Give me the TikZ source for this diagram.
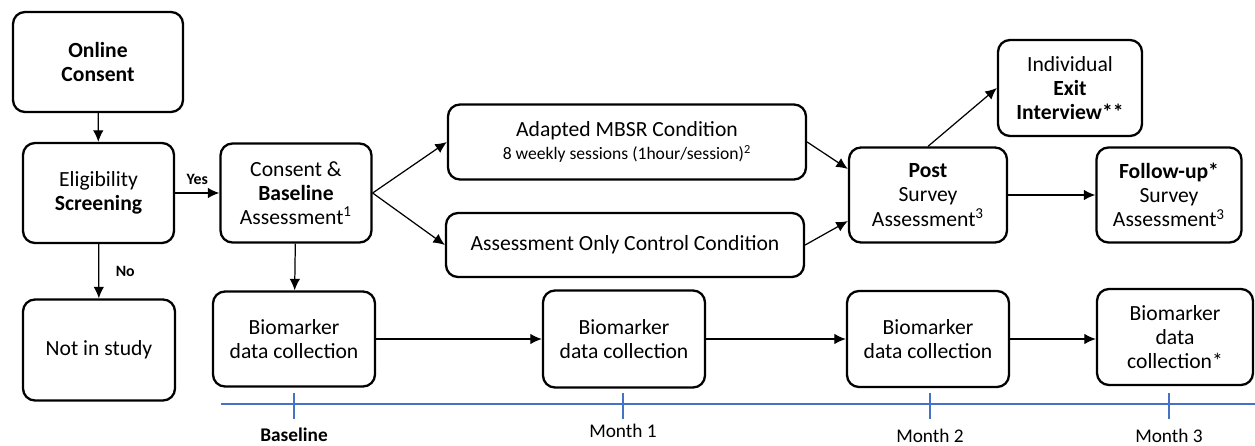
\documentclass[tikz,border=0pt]{standalone}
\usepackage{fontspec}
\setmainfont{Carlito}
\usetikzlibrary{arrows.meta}
\definecolor{timeblue}{RGB}{68,114,196}

\tikzset{
    box/.style={draw, rounded corners=0.24cm, line width=1.3pt, align=center, inner sep=2pt,
        font=\fontsize{12.3}{13.8}\selectfont},
    flow/.style={-{Latex[length=2.3mm,width=2.1mm]}, line width=0.7pt},
    tick/.style={timeblue, line width=1pt}
}

\begin{document}
\begin{tikzpicture}

    \useasboundingbox (0,0) rectangle (25.1,-8.92);

    % Screening column
    \node[box, minimum width=3.40cm, minimum height=2.00cm] (online) at (1.96,-1.24) {\textbf{Online}\\\textbf{Consent}};
    \node[box, minimum width=3.02cm, minimum height=2.00cm] (elig) at (1.97,-3.86) {Eligibility\\\textbf{Screening}};
    \node[box, minimum width=3.04cm, minimum height=2.02cm] (notin) at (1.98,-7.00) {Not in study};

    % Baseline
    \node[box, minimum width=3.02cm, minimum height=1.98cm] (consent) at (5.92,-3.86) {Consent \&\\\textbf{Baseline}\\Assessment\textsuperscript{1}};

    % Conditions
    \node[box, minimum width=7.16cm, minimum height=1.50cm] (mbsr) at (12.54,-2.84) {Adapted MBSR Condition\\[-0.5pt]{\fontsize{10}{12}\selectfont 8 weekly sessions (1hour/session)\textsuperscript{2}}};
    \node[box, minimum width=7.16cm, minimum height=1.28cm] (ctrl) at (12.50,-4.90) {Assessment Only Control Condition};

    % Post and follow-up
    \node[box, minimum width=3.16cm, minimum height=1.90cm] (post) at (18.56,-3.90) {\textbf{Post}\\Survey\\Assessment\textsuperscript{3}};
    \node[box, minimum width=2.88cm, minimum height=1.92cm] (exit) at (21.40,-1.76) {Individual\\\textbf{Exit}\\\textbf{Interview**}};
    \node[box, minimum width=2.90cm, minimum height=1.90cm] (follow) at (23.38,-3.90) {\textbf{Follow-up*}\\Survey\\Assessment\textsuperscript{3}};

    % Biomarker row
    \node[box, minimum width=3.24cm, minimum height=1.90cm] (bio1) at (5.88,-6.78) {Biomarker\\data collection};
    \node[box, minimum width=3.24cm, minimum height=1.94cm] (bio2) at (12.48,-6.78) {Biomarker\\data collection};
    \node[box, minimum width=3.24cm, minimum height=1.92cm] (bio3) at (18.56,-6.78) {Biomarker\\data collection};
    \node[box, minimum width=3.12cm, minimum height=1.92cm] (bio4) at (23.50,-6.74) {Biomarker\\data\\collection*};

    % Arrows
    \draw[flow] (online) -- (elig);
    \draw[flow] (elig) -- node[above=1pt, font=\fontsize{9}{10}\selectfont\bfseries] {Yes} (consent);
    \draw[flow] (elig) -- node[right=6pt, font=\fontsize{9}{10}\selectfont\bfseries] {No} (notin);
    \draw[flow] (consent) -- (bio1);
    \draw[flow] (consent.east) -- (mbsr.west);
    \draw[flow] (consent.east) -- (ctrl.west);
    \draw[flow] (mbsr.east) -- (post.162);
    \draw[flow] (ctrl.east) -- (post.198);
    \draw[flow] (post.north) -- (exit.west);
    \draw[flow] (post) -- (follow);
    \draw[flow] (bio1) -- (bio2);
    \draw[flow] (bio2) -- (bio3);
    \draw[flow] (bio3) -- (bio3 -| bio4.west);

    % Timeline
    \coordinate (tstart) at (4.42,-8.08);
    \coordinate (tend) at (25.1,-8.08);
    \draw[tick] (tstart) -- (tend);
    \foreach \x/\name in {5.88/tb, 12.46/t1, 18.60/t2, 23.38/t3} {
        \draw[tick] (\x,-7.86) -- (\x,-8.38);
        \coordinate (\name) at (\x,-8.38);
    }

    % Time labels
    \node[font=\fontsize{11}{12}\selectfont\bfseries, anchor=north] (lb) at ([yshift=-0.06cm]tb) {Baseline};
    \node[font=\fontsize{11}{12}\selectfont, anchor=north] (l1) at ([yshift=0.02cm]t1) {Month 1};
    \node[font=\fontsize{11}{12}\selectfont, anchor=north] (l2) at ([yshift=-0.08cm]t2) {Month 2};
    \node[font=\fontsize{11}{12}\selectfont, anchor=north] (l3) at ([yshift=-0.08cm]t3) {Month 3};

\end{tikzpicture}
\end{document}
